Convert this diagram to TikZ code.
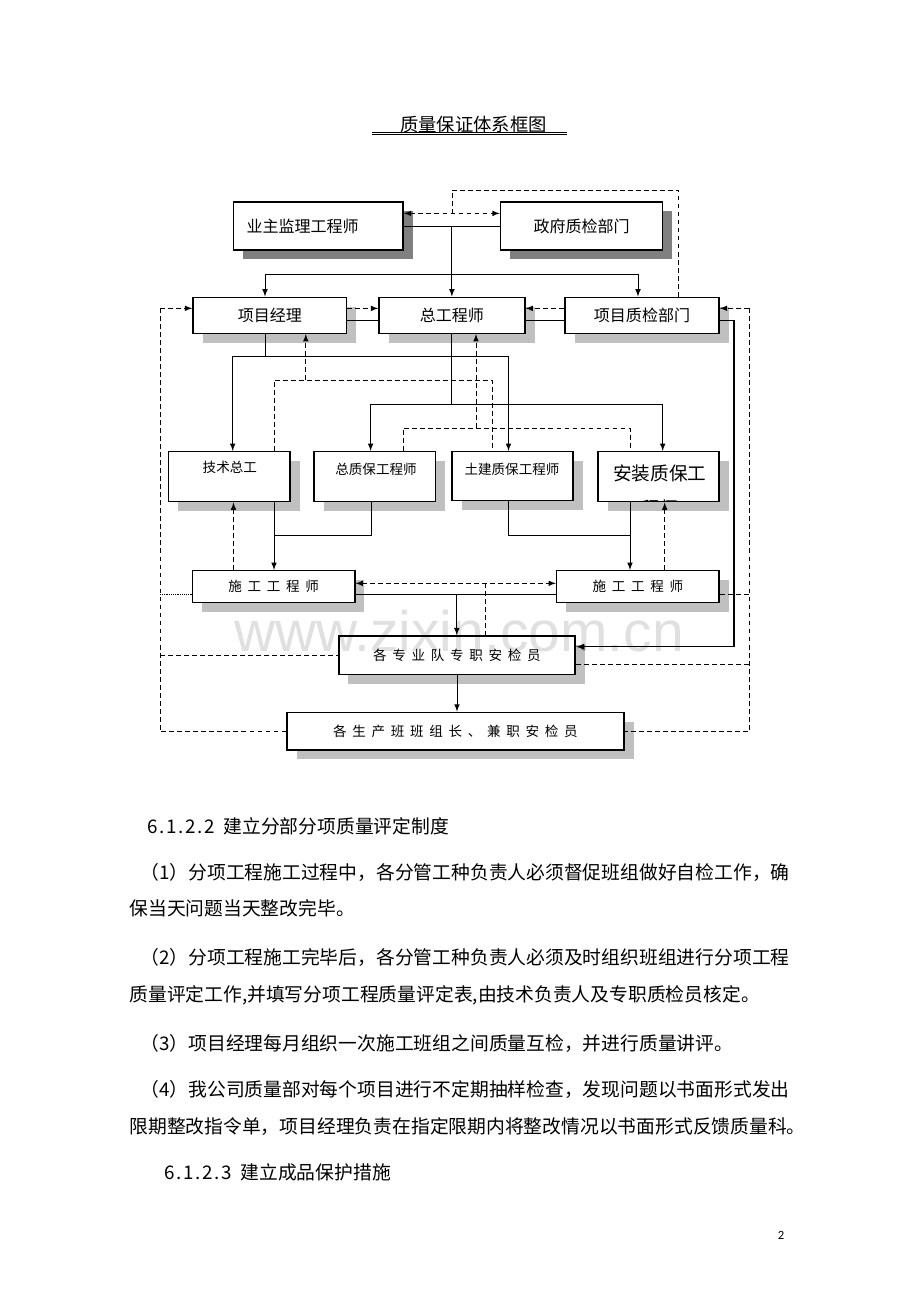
\documentclass[tikz,border=0pt]{standalone}
\usepackage{fontspec}
\setmainfont{Noto Sans CJK SC}
\newfontfamily\wmfont{Liberation Sans}
\newfontfamily\pnfont{Carlito}
\usetikzlibrary{arrows, shadows, calc}
\definecolor{shadowdark}{HTML}{808080}
\definecolor{shadowlight}{HTML}{C0C0C0}
\tikzstyle{toprow}=[draw, fill=white, line width=1.1pt, inner sep=0pt,
    minimum height=1.096cm,
    general shadow={draw=none, fill=shadowdark, shadow xshift=6.3pt, shadow yshift=-6pt},
    font=\fontsize{10.4}{12}\selectfont]
\tikzstyle{secrow}=[toprow, line width=1pt, minimum height=0.822cm,
    general shadow={draw=none, fill=shadowlight, shadow xshift=6.3pt, shadow yshift=-6pt}]
\tikzstyle{thirdrow}=[secrow, minimum width=2.769cm, minimum height=1.141cm]
\tikzstyle{fourrow}=[secrow, minimum width=3.705cm, minimum height=0.730cm,
    font=\fontsize{8.8}{10}\selectfont]
\tikzstyle{crewbox}=[fourrow]
\tikzstyle{boxtext}=[inner sep=0pt, font=\fontsize{8.8}{10}\selectfont]
\tikzstyle{bodyline}=[inner sep=0pt, anchor=base west, font=\fontsize{12.2}{15}\selectfont]
\tikzstyle{dline}=[dash pattern=on 3.2pt off 2pt]
\tikzstyle{dotline}=[dash pattern=on 0.6pt off 0.6pt]
\newcommand{\gp}{\hspace{3.7pt}}
\newcommand{\hw}[1]{\makebox[0.5em]{#1}}

\begin{document}
\begin{tikzpicture}[x=0.0228261cm, y=-0.0228261cm, >=latex, line width=0.65pt]
    \useasboundingbox (0,0) rectangle (920,1302);
    % title
    \node (title) [inner sep=0pt, anchor=base, font=\fontsize{11.9}{14}\selectfont]
        at (473.5,131) {质量保证体系框图};
    \draw[double, double distance=0.7pt, line width=0.45pt] (372,133.3) -- (567,133.3);

    % boxes
    \node (yz) [toprow, minimum width=3.869cm, text width=3.276cm, align=left]
        at (318.3,226) {业主监理工程师};
    \node (zf) [toprow, minimum width=3.698cm] at (581.6,226) {政府质检部门};
    \node (xm) [secrow, minimum width=3.508cm] at (269.8,315.3) {项目经理};
    \node (zg) [secrow, minimum width=3.328cm] at (451.9,315.3) {总工程师};
    \node (zj) [secrow, minimum width=3.515cm] at (642,315.3) {项目质检部门};
    \node (js) [thirdrow] at (229.3,476.7) {};
    \node (zb) [thirdrow] at (374.7,476.7) {};
    \node (tj) [thirdrow, minimum height=1.118cm] at (512.5,476.2) {};
    \node (az) [thirdrow] at (658.5,476.7) {};
    \node (jst) [boxtext] at (229.8,467) {技术总工};
    \node (zbt) [boxtext] at (376,469.5) {总质保工程师};
    \node (tjt) [boxtext] at (512,469.5) {土建质保工程师};
    \begin{scope}
        \clip ([shift={(1.5,-1.5)}]az.south west) rectangle ([shift={(-1.5,1.5)}]az.north east);
        \node (azt) [inner sep=0pt, font=\fontsize{12.1}{14}\selectfont] at (659.7,473) {安装质保工};
        \node (azt2) [inner sep=0pt, font=\fontsize{12.1}{14}\selectfont] at (659.7,508.5) {程师};
    \end{scope}
    \node (sg1) [fourrow] at (273.6,586.7) {施\gp 工\gp 工\gp 程\gp 师};
    \node (sg2) [fourrow] at (637.8,586.7) {施\gp 工\gp 工\gp 程\gp 师};
    \node (zy) [crewbox, minimum width=5.398cm, minimum height=0.874cm]
        at (457,655.2) {各\gp 专\gp 业\gp 队\gp 专\gp 职\gp 安\gp 检\gp 员};
    \node (bz) [crewbox, minimum width=7.688cm, minimum height=0.861cm]
        at (455.4,731.2) {各\gp 生\gp 产\gp 班\gp 班\gp 组\gp 长\gp 、\gp 兼\gp 职\gp 安\gp 检\gp 员};

    % top row
    \draw[dline,<->,transform canvas={yshift=8.2pt}] (yz) -- (zf);
    \draw (yz) -- (zf);
    \draw[->] (zg |- yz) -- (zg);
    \coordinate (b1) at (265,274.3);
    \coordinate (b2) at (638,274.3);
    \draw (b1) -- (b2);
    \draw[->] (b1) -- (b1 |- xm.north);
    \draw[->] (b2) -- (b2 |- zj.north);
    \coordinate (d0) at (678.6,190);
    \coordinate (d1) at (452,213.3);
    \draw[dline] (d0 |- zj.north) -- (d0) -| (d1);

    % second row
    \draw[dline,->,transform canvas={yshift=4.5pt}] (xm) -- (zg);
    \draw[transform canvas={yshift=-3.5pt}] (xm) -- (zg);
    \draw[dline,->,transform canvas={yshift=4.5pt}] (zj) -- (zg);
    \draw[transform canvas={yshift=-3.5pt}] (zj) -- (zg);

    % outer loops
    \coordinate (l0) at (160,308.3);
    \draw[dline,->] (l0) -- (l0 -| xm.west);
    \draw[dline] (l0) |- (bz.west);
    \draw[dline] (l0 |- zy.west) -- (zy.west);
    \draw[dotline, transform canvas={yshift=-4.9pt}] (l0 |- sg1.west) -- (sg1.west);
    \coordinate (r0) at (749.4,308.3);
    \draw[dline,->] (r0) -- (r0 -| zj.east);
    \draw[dline] (r0) |- (bz.east);
    \draw[dline, transform canvas={yshift=-4.9pt}] (sg2.east) -- (r0 |- sg2.east);
    \draw[dline, transform canvas={yshift=-5.9pt}] (zy.east) -- (r0 |- zy.east);
    \coordinate (r1) at (734,646.7);
    \draw[->, line width=0.9pt] ([yshift=-3.5pt]zj.east) -| (r1) -- (r1 -| zy.east);

    % second to third row
    \coordinate (b3) at (232.7,356);
    \coordinate (b4) at (508.5,356);
    \coordinate (b5) at (265,356);
    \draw (b5 |- xm.south) -- (b5);
    \draw (b3) -- (b4);
    \draw[->] (b3) -- (b3 |- js.north);
    \draw[->] (b4) -- (b4 |- tj.north);
    \coordinate (d2) at (274,380);
    \coordinate (d3) at (492.6,380);
    \coordinate (d4) at (305.8,380);
    \draw[dline] (d2 |- js.north) -- (d2) -- (d3) -- (d3 |- tj.north);
    \draw[dline,->] (d4) -- (d4 |- xm.south);
    \coordinate (b6) at (370.6,404);
    \coordinate (b7) at (662.7,404);
    \draw (zg.south) -- (zg.south |- b6);
    \draw (b6) -- (b7);
    \draw[->] (b6) -- (b6 |- zb.north);
    \draw[->] (b7) -- (b7 |- az.north);
    \coordinate (d5) at (403,428.3);
    \coordinate (d6) at (630,428.3);
    \coordinate (d7) at (476,428.3);
    \draw[dline] (d5 |- zb.north) -- (d5) -- (d6) -- (d6 |- az.north);
    \draw[dline,->] (d7) -- (d7 |- zg.south);

    % third to fourth row
    \coordinate (b8) at (274,535);
    \coordinate (b9) at (371.4,535);
    \draw (b9 |- zb.south) -- (b9) -- (b8);
    \draw[->] (b8 |- js.south) -- (b8 |- sg1.north);
    \coordinate (d8) at (233.5,540);
    \draw[dline,->] (d8 |- sg1.north) -- (d8 |- js.south);
    \coordinate (b10) at (508.5,535);
    \coordinate (b11) at (630,535);
    \draw (b10 |- tj.south) -- (b10) -- (b11);
    \draw[->] (b11 |- az.south) -- (b11 |- sg2.north);
    \coordinate (d9) at (664.7,540);
    \draw[dline,->] (d9 |- sg2.north) -- (d9 |- az.south);

    % fourth row down
    \draw[dline,<->,transform canvas={yshift=2.2pt}] (sg1) -- (sg2);
    \draw[transform canvas={yshift=-4.9pt}] (sg1) -- (sg2);
    \coordinate (b12) at (456.8,594.3);
    \draw[->] (b12) -- (b12 |- zy.north);
    \coordinate (d10) at (485.8,583.3);
    \draw[dline] (d10) -- (d10 |- zy.north);
    \draw[->] (zy.south) -- (zy.south |- bz.north);

    % text below
    \node (p0) [bodyline] at (148,833)
        {\hw{6}\hw{.}\hw{1}\hw{.}\hw{2}\hw{.}\hw{2}\hspace{0.5em}建立分部分项质量评定制度};
    \node (p1) [bodyline] at (140,879) {（1）分项工程施工过程中，各分管工种负责人必须督促班组做好自检工作，确};
    \node (p1b) [bodyline] at (129,915) {保当天问题当天整改完毕。};
    \node (p2) [bodyline] at (140,964) {（2）分项工程施工完毕后，各分管工种负责人必须及时组织班组进行分项工程};
    \node (p2b) [bodyline] at (129,1001) {质量评定工作,并填写分项工程质量评定表,由技术负责人及专职质检员核定。};
    \node (p3) [bodyline] at (140,1050) {（3）项目经理每月组织一次施工班组之间质量互检，并进行质量讲评。};
    \node (p4) [bodyline] at (140,1096) {（4）我公司质量部对每个项目进行不定期抽样检查，发现问题以书面形式发出};
    \node (p4b) [bodyline] at (129,1133) {限期整改指令单，项目经理负责在指定限期内将整改情况以书面形式反馈质量科。};
    \node (p5) [bodyline] at (165,1179)
        {\hw{6}\hw{.}\hw{1}\hw{.}\hw{2}\hw{.}\hw{3}\hspace{0.5em}建立成品保护措施};
    \node (pn) [inner sep=0pt, font=\pnfont\fontsize{8.2}{10}\selectfont] at (781,1235) {2};

    % watermark
    \node (wm) [inner sep=0pt, anchor=base, text opacity=0.12,
        font=\wmfont\fontsize{37}{40}\selectfont] at (459,651) {www.zixin.com.cn};
\end{tikzpicture}
\end{document}
